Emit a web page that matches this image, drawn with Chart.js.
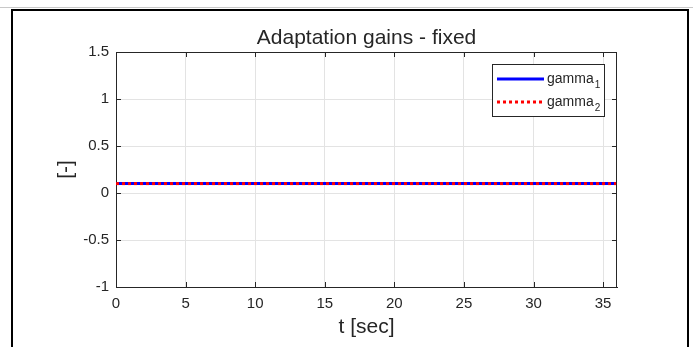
<!DOCTYPE html>
<html>
<head>
<meta charset="utf-8">
<script src="https://cdn.jsdelivr.net/npm/chart.js@4/dist/chart.umd.min.js"></script>
<style>
  html, body { margin: 0; padding: 0; background: #fff; }
  #wrap { position: relative; width: 693px; height: 347px; overflow: hidden; }
  #topline { position: absolute; left: 0; top: 7px; width: 693px; height: 1px; background: #c8c8c8; }
  #frame { position: absolute; left: 11px; top: 9px; width: 674px; height: 345px;
           border-top: 2px solid #000; border-left: 2px solid #000; border-right: 2px solid #000; }
  canvas { position: absolute; left: 0; top: 0; }
</style>
</head>
<body>
<div id="wrap">
  <div id="topline"></div>
  <div id="frame"></div>
  <canvas id="c" width="693" height="347"></canvas>
</div>
<script>
// ---- data ----
const chartTitle = 'Adaptation gains - fixed';
const xAxisTitle = 't [sec]';
const yAxisTitle = '[-]';
const tSec = [0, 36];
const gamma1 = [0.1, 0.1];
const gamma2 = [0.1, 0.1];
const seriesNames = ['gamma', 'gamma'];
const seriesSubscripts = ['1', '2'];
const xTickValues = [0, 5, 10, 15, 20, 25, 30, 35];
const yTickValues = [-1, -0.5, 0, 0.5, 1, 1.5];
const xRange = [0, 36];
const yRange = [-1, 1.5];

const FONT = '"Liberation Sans", Arial, Helvetica, sans-serif';
const TXT = '#262626';

const toXY = (xs, ys) => xs.map((x, i) => ({ x: x, y: ys[i] }));

const frameTicks = {
  id: 'frameTicks',
  afterDatasetsDraw(chart) {
    const { ctx, chartArea: a, scales } = chart;
    ctx.save();
    ctx.strokeStyle = TXT;
    ctx.lineWidth = 1;
    ctx.beginPath();
    ctx.moveTo(a.left, a.top + 0.5); ctx.lineTo(a.right, a.top + 0.5);
    ctx.moveTo(a.right - 0.5, a.top); ctx.lineTo(a.right - 0.5, a.bottom);
    const L = 5;
    scales.x.ticks.forEach(t => {
      const px = Math.round(scales.x.getPixelForValue(t.value)) + 0.5;
      ctx.moveTo(px, a.bottom); ctx.lineTo(px, a.bottom - L);
      ctx.moveTo(px, a.top); ctx.lineTo(px, a.top + L);
    });
    scales.y.ticks.forEach(t => {
      const py = Math.round(scales.y.getPixelForValue(t.value)) + 0.5;
      ctx.moveTo(a.left, py); ctx.lineTo(a.left + L, py);
      ctx.moveTo(a.right, py); ctx.lineTo(a.right - L, py);
    });
    ctx.stroke();
    ctx.restore();
  },
  afterDraw(chart) {
    const { ctx, chartArea: a } = chart;
    const w = 113, h = 53;
    const x0 = a.right - 12 - w, y0 = a.top + 12;
    ctx.save();
    ctx.fillStyle = '#fff';
    ctx.fillRect(x0, y0, w, h);
    ctx.strokeStyle = '#262626';
    ctx.lineWidth = 1;
    ctx.strokeRect(x0 + 0.5, y0 + 0.5, w - 1, h - 1);
    chart.data.datasets.forEach((ds, i) => {
      const yy = y0 + 15 + i * 23;
      ctx.beginPath();
      ctx.strokeStyle = ds.borderColor;
      ctx.lineWidth = ds.borderWidth;
      ctx.setLineDash(ds.borderDash || []);
      ctx.moveTo(x0 + 5, yy); ctx.lineTo(x0 + 52, yy);
      ctx.stroke();
      ctx.setLineDash([]);
      ctx.fillStyle = TXT;
      ctx.textBaseline = 'alphabetic';
      ctx.textAlign = 'left';
      ctx.font = '14px ' + FONT;
      ctx.fillText(seriesNames[i], x0 + 55, yy + 4);
      const tw = ctx.measureText(seriesNames[i]).width;
      ctx.font = '10px ' + FONT;
      ctx.fillText(seriesSubscripts[i], x0 + 56 + tw, yy + 9);
    });
    ctx.restore();
  }
};

new Chart(document.getElementById('c'), {
  type: 'line',
  data: {
    datasets: [
      { label: 'gamma_1', data: toXY(tSec, gamma1), borderColor: '#0000ff', borderWidth: 3,
        pointRadius: 0, fill: false, tension: 0, order: 1 },
      { label: 'gamma_2', data: toXY(tSec, gamma2), borderColor: '#ff0000', borderWidth: 3,
        borderDash: [3, 3], pointRadius: 0, fill: false, tension: 0, order: 0 }
    ]
  },
  options: {
    responsive: false,
    animation: false,
    layout: { padding: { left: 0, right: 76, top: 0, bottom: 0 } },
    plugins: {
      legend: { display: false },
      tooltip: { enabled: false },
      title: {
        display: true, text: chartTitle, fullSize: false, color: TXT,
        font: { family: FONT, size: 21, weight: 'normal', lineHeight: 1.2 },
        padding: { top: 25.5, bottom: 1.3 }
      }
    },
    scales: {
      x: {
        type: 'linear', min: xRange[0], max: xRange[1],
        afterBuildTicks: s => { s.ticks = xTickValues.map(v => ({ value: v })); },
        afterFit: s => { s.height = 60; },
        grid: { color: '#e3e3e3', drawTicks: false, tickLength: 0 },
        border: { display: true, color: TXT, width: 1 },
        ticks: { color: TXT, padding: 8, maxRotation: 0, autoSkip: false,
                 font: { family: FONT, size: 15 }, callback: v => String(v) },
        title: { display: true, text: xAxisTitle, color: TXT,
                 font: { family: FONT, size: 21, lineHeight: 1.2 }, padding: { top: 0, bottom: 7 } }
      },
      y: {
        type: 'linear', min: yRange[0], max: yRange[1],
        afterBuildTicks: s => { s.ticks = yTickValues.map(v => ({ value: v })); },
        afterFit: s => { s.width = 116; },
        grid: { color: '#e3e3e3', drawTicks: false, tickLength: 0 },
        border: { display: true, color: TXT, width: 1 },
        ticks: { color: TXT, padding: 7, autoSkip: false,
                 font: { family: FONT, size: 15 }, callback: v => String(v) },
        title: { display: true, text: yAxisTitle, color: TXT,
                 font: { family: FONT, size: 21, lineHeight: 1.2 }, padding: { top: 54, bottom: 0 } }
      }
    }
  },
  plugins: [frameTicks]
});
</script>
</body>
</html>
